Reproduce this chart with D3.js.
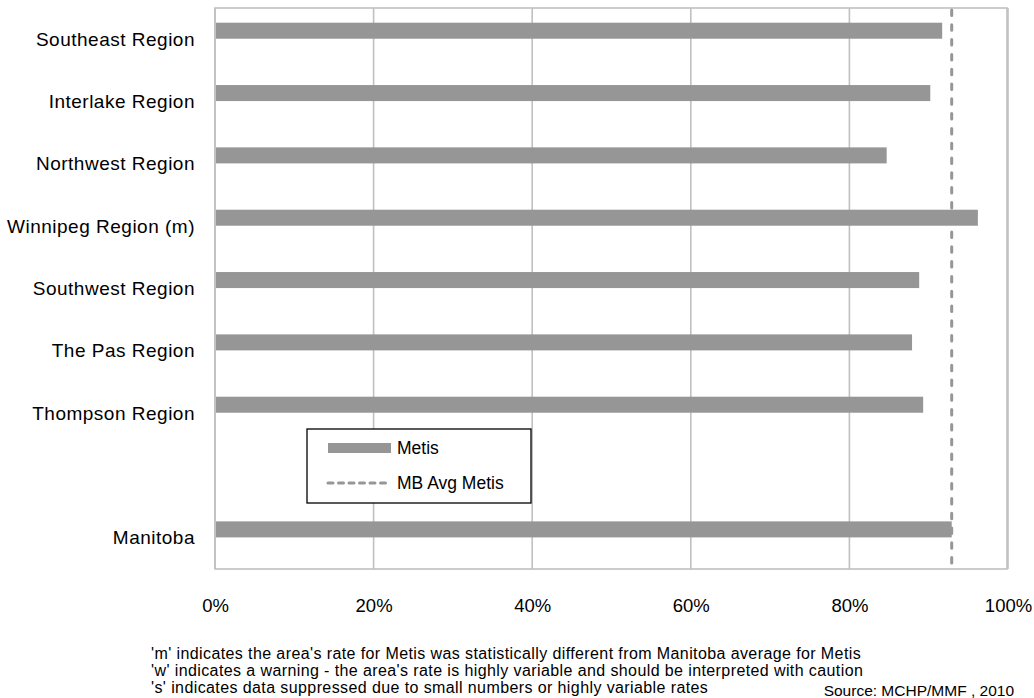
<!DOCTYPE html>
<html>
<head>
<meta charset="utf-8">
<script src="https://cdn.jsdelivr.net/npm/d3@7"></script>
<style>
  html, body { margin: 0; padding: 0; background: #fff; }
  svg { display: block; font-family: "Liberation Sans", Arial, sans-serif; }
</style>
</head>
<body>
<svg id="chart" width="1034" height="698"></svg>
<script>
// ---- data ----
const categories = ["Southeast Region", "Interlake Region", "Northwest Region", "Winnipeg Region (m)",
  "Southwest Region", "The Pas Region", "Thompson Region", " ", "Manitoba"];
const metisValues = [91.7, 90.2, 84.7, 96.2, 88.8, 87.9, 89.3, null, 92.9];
const mbAvgMetis = 92.9;
const xTicks = [0, 20, 40, 60, 80, 100];
const legendLabels = ["Metis", "MB Avg Metis"];
const footnotes = [
  "'m' indicates the area's rate for Metis was statistically different from Manitoba average for Metis",
  "'w' indicates a warning - the area's rate is highly variable and should be interpreted with caution",
  "'s' indicates data suppressed due to small numbers or highly variable rates"
];
const sourceText = "Source: MCHP/MMF , 2010";

// ---- layout ----
const svg = d3.select("#chart");
const pLeft = 215, pRight = 1008, pTop = 8, pBottom = 569;
const x = d3.scaleLinear().domain([0, 100]).range([pLeft, pRight]);
const y = d3.scaleBand().domain(categories).range([pTop, pBottom]).padding(0);
const bw = y.bandwidth();

const gridColor = "#c0c0c0";
const barColor = "#969696";

// gridlines
svg.append("g").selectAll("line").data(xTicks).join("line")
  .attr("x1", d => x(d)).attr("x2", d => x(d))
  .attr("y1", pTop).attr("y2", pBottom)
  .attr("stroke", gridColor).attr("stroke-width", 1.6);

// frame
svg.append("rect").attr("x", pLeft).attr("y", pTop)
  .attr("width", x(100) - pLeft - 1).attr("height", pBottom - pTop)
  .attr("fill", "none").attr("stroke", gridColor).attr("stroke-width", 1.6);

// bars
svg.append("g").selectAll("rect").data(categories.map((c, i) => ({c, v: metisValues[i]})).filter(d => d.v != null))
  .join("rect")
  .attr("x", x(0) + 1)
  .attr("y", d => y(d.c) + bw * 0.236)
  .attr("width", d => x(d.v) - x(0) - 1)
  .attr("height", bw * 0.257)
  .attr("fill", barColor);

// MB average dashed line
svg.append("line")
  .attr("x1", x(mbAvgMetis)).attr("x2", x(mbAvgMetis))
  .attr("y1", pTop + 2).attr("y2", pBottom)
  .attr("stroke", barColor).attr("stroke-width", 3)
  .attr("stroke-dasharray", "5.5,9.3").attr("stroke-linecap", "round");

// y axis labels
svg.append("g").selectAll("text").data(categories).join("text")
  .attr("x", 195).attr("y", d => y(d) + bw / 2)
  .attr("text-anchor", "end").attr("dominant-baseline", "central")
  .attr("font-size", 19).attr("letter-spacing", 0.5).attr("fill", "#000")
  .text(d => d);

// x axis labels
const xAxis = d3.axisBottom(x).tickValues(xTicks).tickFormat(d => d + "%").tickSize(0).tickPadding(0);
const xg = svg.append("g").attr("transform", `translate(0, ${pBottom})`).call(xAxis);
xg.select(".domain").remove();
xg.selectAll("text").attr("font-size", 18.5).attr("fill", "#000")
  .attr("font-family", "Liberation Sans, Arial, sans-serif")
  .attr("dy", null).attr("y", 43);

// legend
const lg = svg.append("g");
lg.append("rect").attr("x", 307).attr("y", 429).attr("width", 224).attr("height", 74)
  .attr("fill", "#fff").attr("stroke", "#000").attr("stroke-width", 1.3);
lg.append("rect").attr("x", 328).attr("y", 443).attr("width", 63).attr("height", 10).attr("fill", barColor);
lg.append("line").attr("x1", 328).attr("x2", 390).attr("y1", 483).attr("y2", 483)
  .attr("stroke", barColor).attr("stroke-width", 3).attr("stroke-dasharray", "5,5.5").attr("stroke-linecap", "round");
lg.selectAll("text").data(legendLabels).join("text")
  .attr("x", 397).attr("y", (d, i) => 448 + i * 35)
  .attr("dominant-baseline", "central").attr("font-size", 17.5).attr("fill", "#000")
  .text(d => d);

// footnotes
svg.append("g").selectAll("text").data(footnotes).join("text")
  .attr("x", 151).attr("y", (d, i) => 659 + i * 17)
  .attr("font-size", 16).attr("letter-spacing", 0.4).attr("fill", "#000")
  .text(d => d);
svg.append("text").attr("x", 1014).attr("y", 696).attr("text-anchor", "end")
  .attr("font-size", 15.5).attr("fill", "#000").text(sourceText);
</script>
</body>
</html>
